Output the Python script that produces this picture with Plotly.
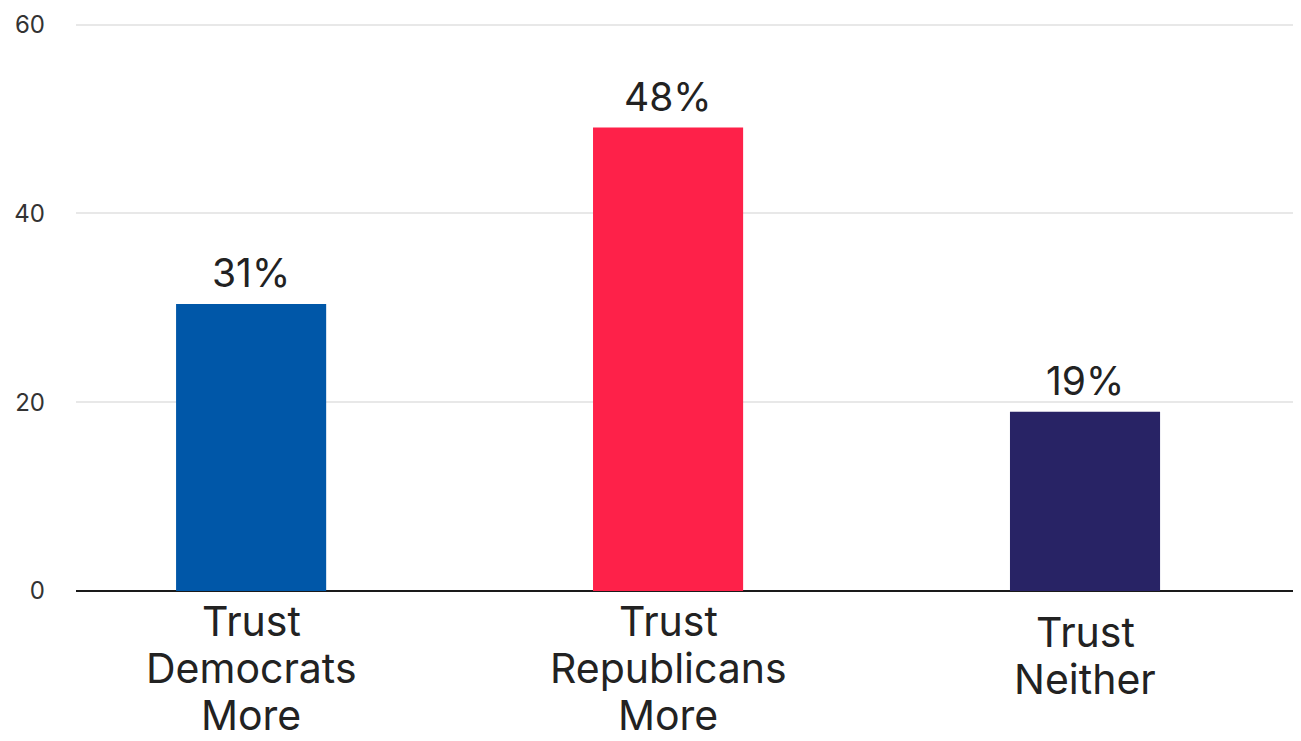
import plotly.graph_objects as go

categories = ["Trust<br>Democrats<br>More", "Trust<br>Republicans<br>More", "Trust<br>Neither"]
values = [30.4, 49.1, 19.0]
value_labels = ["31%", "48%", "19%"]
bar_colors = ["#0057a8", "#fe2149", "#282365"]
y_ticks = [0, 20, 40, 60]

FONT = "Inter, Liberation Sans, Arial, sans-serif"
label_top = [-3, -3, -14]   # first-line offset below the axis, px
line_step = 47              # px between label lines

fig = go.Figure()
fig.add_trace(go.Bar(
    x=list(range(len(categories))),
    y=values,
    marker=dict(color=bar_colors, line=dict(width=0)),
    width=0.36,
    hoverinfo="skip",
))

for i, (cat, v, lab) in enumerate(zip(categories, values, value_labels)):
    fig.add_annotation(x=i, y=v, text=lab, showarrow=False, xref="x", yref="y",
                       yanchor="bottom", yshift=6,
                       font=dict(family=FONT, size=39, color="#222222"))
    for k, line in enumerate(cat.split("<br>")):
        fig.add_annotation(x=i, y=0, text=line, showarrow=False, xref="x", yref="paper",
                           yanchor="top", yshift=label_top[i] - k * line_step,
                           font=dict(family=FONT, size=41, color="#222222"))

fig.update_layout(
    width=1293, height=733,
    margin=dict(l=68, r=0, t=12, b=150),
    paper_bgcolor="white", plot_bgcolor="white",
    showlegend=False,
    font=dict(family=FONT),
    xaxis=dict(range=[-0.42, 2.518], showticklabels=False, showgrid=False,
               zeroline=False, showline=False, ticks=""),
    yaxis=dict(range=[0, 60.5], tickvals=y_ticks, showgrid=True,
               gridcolor="#e8e8e8", gridwidth=2, zeroline=True,
               zerolinecolor="#1a1a1a", zerolinewidth=2, showline=False,
               ticks="", ticklabelstandoff=30,
               tickfont=dict(family=FONT, size=24, color="#333333")),
)

fig.write_html("out.html")
